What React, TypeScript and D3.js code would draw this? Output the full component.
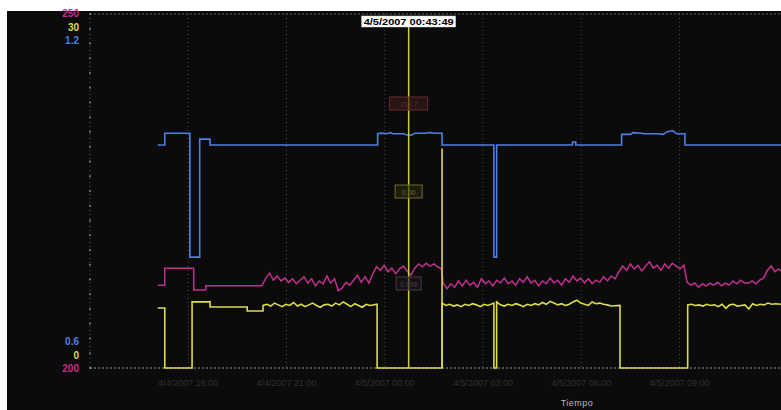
import React from "react";
import * as d3 from "d3";

// Acquisition start; samples are stored as minutes after this instant.
const START = new Date(2007, 3, 4, 15, 0, 0);
const SPAN_MIN = 1266;
const CURSOR = new Date(2007, 3, 5, 0, 43, 49);
const CURSOR_LABEL = "4/5/2007 00:43:49";
const X_TITLE = "Tiempo";

// Axis extents per channel (top / bottom labels)
const blueDomain: [number, number] = [0.6, 1.2];
const yellowDomain: [number, number] = [0, 30];
const magentaDomain: [number, number] = [200, 250];
const topLabels = ["250", "30", "1.2"];
const bottomLabels = ["0.6", "0", "200"];

// Channel 1 (blue): [minute, value]
const blueSeries: [number, number][] = [
  [124, 0.978], [137, 0.978], [137, 0.998], [183, 0.998], [183, 0.788],
  [201, 0.788], [201, 0.988], [220, 0.988], [220, 0.978], [527, 0.978],
  [527, 0.997], [535, 0.998], [545, 0.997], [550, 0.999], [555, 0.997],
  [575, 0.997], [580, 0.995], [590, 0.995], [595, 0.998], [615, 0.998],
  [620, 0.999], [635, 0.998], [645, 0.998], [645, 0.978], [740, 0.978],
  [740, 0.788], [745, 0.788], [745, 0.978], [884, 0.978], [884, 0.983],
  [890, 0.983], [890, 0.978], [974, 0.978], [974, 0.996], [990, 0.996],
  [995, 0.999], [1010, 0.998], [1015, 0.997], [1040, 0.997], [1050, 0.996],
  [1058, 1.001], [1068, 1.002], [1075, 0.997], [1090, 0.997],
  [1090, 0.978], [1266, 0.978],
];

// Channel 2 (yellow): [minute, value]
const yellowSeries: [number, number][] = [
  [124, 5.08], [137, 5.08], [137, 0], [187, 0], [187, 5.6], [220, 5.6],
  [220, 5.17], [288, 5.17], [288, 4.83], [317, 4.83], [317, 5.3], [324, 5.4],
  [331, 5.25], [338, 5.5], [345, 5.35], [352, 5.2], [359, 5.4], [366, 5.3],
  [373, 5.55], [380, 5.25], [387, 5.4], [394, 5.2], [401, 5.35], [408, 5.5],
  [415, 5.3], [422, 5.15], [429, 5.35], [436, 5.4], [443, 5.25], [450, 5.5],
  [457, 5.35], [464, 5.6], [471, 5.4], [478, 5.2], [485, 5.45], [492, 5.3],
  [499, 5.15], [506, 5.4], [513, 5.3], [526, 5.4], [526, 0], [645, 0],
  [645, 5.5], [652, 5.3], [659, 5.4], [666, 5.25], [673, 5.35], [680, 5.2],
  [687, 5.4], [694, 5.3], [701, 5.45], [708, 5.35], [715, 5.2], [722, 5.4],
  [729, 5.3], [740, 5.5], [740, 0], [745, 0], [745, 5.6], [752, 5.35],
  [759, 5.25], [766, 5.4], [773, 5.3], [780, 5.45], [787, 5.35], [794, 5.2],
  [801, 5.4], [808, 5.3], [815, 5.45], [822, 5.35], [829, 5.55], [836, 5.4],
  [843, 5.65], [850, 5.5], [857, 5.35], [864, 5.45], [871, 5.3], [878, 5.4],
  [885, 5.6], [892, 5.75], [899, 5.5], [906, 5.4], [913, 5.3], [920, 5.6],
  [927, 5.45], [934, 5.5], [941, 5.4], [948, 5.35], [955, 5.25], [971, 5.3],
  [971, 0], [1095, 0], [1095, 5.35], [1102, 5.4], [1109, 5.3], [1116, 5.35],
  [1123, 5.25], [1130, 5.4], [1137, 5.3], [1144, 5.35], [1151, 5.2],
  [1158, 5.4], [1165, 5.05], [1172, 5.35], [1179, 5.4], [1186, 5.25],
  [1193, 5.3], [1200, 5.35], [1207, 5.0], [1214, 5.45], [1221, 5.3],
  [1228, 5.4], [1235, 5.35], [1242, 5.5], [1249, 5.4], [1256, 5.45],
  [1266, 5.4],
];

// Channel 3 (magenta): [minute, value]
const magentaSeries: [number, number][] = [
  [124, 211.7], [137, 211.7], [137, 214.1], [190, 214.1], [190, 211.0],
  [212, 211.0], [212, 211.6], [315, 211.6], [322, 212.7], [329, 213.4],
  [336, 212.4], [343, 213.0], [350, 212.3], [357, 212.7], [364, 212.1],
  [371, 212.6], [378, 211.9], [385, 212.4], [392, 212.9], [399, 212.0],
  [406, 212.6], [413, 211.6], [420, 212.3], [427, 211.9], [434, 213.0],
  [441, 212.0], [448, 212.6], [455, 210.9], [462, 211.3], [469, 212.1],
  [476, 211.7], [483, 212.4], [490, 213.1], [497, 212.1], [504, 212.9],
  [511, 212.0], [518, 213.3], [525, 214.3], [532, 213.8], [539, 214.5],
  [546, 213.6], [553, 214.1], [560, 213.3], [567, 214.0], [574, 214.4],
  [581, 213.7], [588, 213.1], [595, 214.1], [602, 214.7], [609, 214.3],
  [616, 214.8], [623, 214.4], [630, 214.7], [637, 214.3], [644, 214.0],
  [647, 212.0], [654, 211.2], [661, 211.9], [668, 211.4], [675, 212.3],
  [682, 211.6], [689, 212.4], [696, 211.7], [703, 212.1], [710, 211.4],
  [717, 212.6], [724, 211.9], [731, 212.3], [738, 211.6], [745, 212.4],
  [752, 212.0], [759, 212.7], [766, 211.9], [773, 212.3], [780, 211.7],
  [787, 212.6], [794, 212.1], [801, 212.9], [808, 212.0], [815, 212.4],
  [822, 211.6], [829, 212.3], [836, 211.9], [843, 212.7], [850, 212.0],
  [857, 212.4], [864, 211.7], [871, 212.6], [878, 212.1], [885, 213.0],
  [892, 212.3], [899, 212.7], [906, 212.0], [913, 212.6], [920, 211.9],
  [927, 212.4], [934, 212.1], [941, 212.9], [948, 212.3], [955, 213.0],
  [962, 212.6], [969, 213.6], [976, 214.4], [983, 213.8], [990, 214.7],
  [997, 214.0], [1004, 214.5], [1011, 213.7], [1018, 214.4], [1025, 215.0],
  [1032, 214.1], [1039, 214.5], [1046, 213.8], [1053, 214.7], [1060, 214.1],
  [1067, 214.8], [1074, 214.4], [1081, 214.0], [1088, 214.5], [1094, 212.1],
  [1101, 211.7], [1108, 212.0], [1115, 211.4], [1122, 211.9], [1129, 211.6],
  [1136, 212.0], [1143, 211.7], [1150, 212.1], [1157, 211.6], [1164, 212.0],
  [1171, 211.7], [1178, 212.3], [1185, 211.9], [1192, 212.4], [1199, 212.0],
  [1206, 212.0], [1213, 212.3], [1220, 211.9], [1227, 212.4], [1234, 212.7],
  [1241, 213.8], [1248, 214.4], [1255, 213.6], [1262, 214.0], [1266, 213.7],
];

// Secondary marker on the yellow channel: [minute, from, to]
const markerLine: [number, number, number] = [645, 0, 18.6];

// Cursor readouts (channel, value)
const readouts: { key: string; value: string }[] = [
  { key: "magenta", value: "213.7" },
  { key: "yellow", value: "0.00" },
  { key: "blue", value: "0.998" },
];

const W = 781;
const H = 410;
const M = { left: 90, right: 781, top: 14, bottom: 368 };

const COLORS = {
  panel: "#0b0b0b",
  blue: "#4f7fe0",
  yellow: "#dcdc4c",
  magenta: "#c0308f",
  cursor: "#cfcf45",
  grid: "#4a4a4a",
  axis: "#8a8a8a",
};

const toDate = (m: number) => new Date(START.getTime() + m * 60000);

export default function App() {
  const x = d3
    .scaleTime()
    .domain([START, toDate(SPAN_MIN)])
    .range([M.left, M.right]);
  const yBlue = d3.scaleLinear().domain(blueDomain).range([M.bottom, M.top]);
  const yYellow = d3.scaleLinear().domain(yellowDomain).range([M.bottom, M.top]);
  const yMagenta = d3.scaleLinear().domain(magentaDomain).range([M.bottom, M.top]);

  const mkLine = (ys: d3.ScaleLinear<number, number>) =>
    d3
      .line<[number, number]>()
      .x((d) => x(toDate(d[0])))
      .y((d) => ys(d[1]))
      .curve(d3.curveLinear);

  const ticks = x.ticks(d3.timeHour.every(3)!).filter((t) => {
    const px = x(t);
    return px > M.left + 5 && px < M.right - 5;
  });
  const fmt = d3.timeFormat("%-m/%-d/%Y %H:%M");

  const cx = x(CURSOR);
  const leftTicks = d3.range(0, 25).map((i) => M.top + (i * (M.bottom - M.top)) / 24);

  const readoutBoxes = [
    { y: 97, w: 38, stroke: "#6b2a2a", fill: "#3a1a1a" },
    { y: 185, w: 27, stroke: "#6d6a2c", fill: "#2a2a12" },
    { y: 277, w: 25, stroke: "#4a3a48", fill: "#1e161e" },
  ];

  return (
    <svg
      width={W}
      height={H}
      style={{ position: "absolute", left: 0, top: 0, background: "#ffffff" }}
      fontFamily="'Liberation Sans', Arial, sans-serif"
    >
      <rect x={7} y={11} width={W - 7} height={H - 11} fill={COLORS.panel} />

      {/* vertical grid */}
      {ticks.map((t, i) => (
        <line
          key={"g" + i}
          x1={x(t)}
          x2={x(t)}
          y1={M.top}
          y2={M.bottom}
          stroke={COLORS.grid}
          strokeWidth={1}
          strokeDasharray="1 3"
        />
      ))}

      {/* frame lines */}
      <line x1={M.left} x2={M.right} y1={M.top} y2={M.top} stroke="#5a5a5a" strokeDasharray="2 2" />
      <line x1={M.left} x2={M.right} y1={M.bottom} y2={M.bottom} stroke="#9a9a9a" strokeDasharray="2 2" />
      <line x1={M.left} x2={M.left} y1={M.top} y2={M.bottom} stroke="#555" strokeDasharray="1 3" />
      {leftTicks.map((ty, i) => (
        <circle key={"lt" + i} cx={M.left} cy={ty} r={0.9} fill="#8a8a8a" />
      ))}

      {/* left axis labels */}
      {topLabels.map((t, i) => (
        <text
          key={"tl" + i}
          x={79}
          y={17 + i * 13.5}
          textAnchor="end"
          fontSize={10}
          fontWeight="bold"
          fill={[COLORS.magenta, COLORS.yellow, COLORS.blue][i]}
        >
          {t}
        </text>
      ))}
      {bottomLabels.map((t, i) => (
        <text
          key={"bl" + i}
          x={79}
          y={345 + i * 13.5}
          textAnchor="end"
          fontSize={10}
          fontWeight="bold"
          fill={[COLORS.blue, COLORS.yellow, COLORS.magenta][i]}
        >
          {t}
        </text>
      ))}

      {/* bottom time labels */}
      {ticks.map((t, i) => (
        <text
          key={"xl" + i}
          x={x(t)}
          y={386}
          textAnchor="middle"
          fontSize={9}
          fill="#2f2f2f"
        >
          {fmt(t)}
        </text>
      ))}
      <text x={577} y={406} textAnchor="middle" fontSize={9} fill="#b8b8b8" letterSpacing={0.5}>
        {X_TITLE}
      </text>

      {/* channels */}
      <path d={mkLine(yYellow)(yellowSeries) ?? ""} fill="none" stroke={COLORS.yellow} strokeWidth={1.6} />
      <path d={mkLine(yMagenta)(magentaSeries) ?? ""} fill="none" stroke={COLORS.magenta} strokeWidth={1.5} />
      <path d={mkLine(yBlue)(blueSeries) ?? ""} fill="none" stroke={COLORS.blue} strokeWidth={1.6} />

      {/* secondary marker */}
      <line
        x1={x(toDate(markerLine[0]))}
        x2={x(toDate(markerLine[0]))}
        y1={yYellow(markerLine[1])}
        y2={yYellow(markerLine[2])}
        stroke={COLORS.yellow}
        strokeWidth={1.6}
      />

      {/* cursor */}
      <line x1={cx} x2={cx} y1={27} y2={M.bottom} stroke={COLORS.cursor} strokeWidth={1.5} />
      {readoutBoxes.map((b, i) => (
        <g key={"rb" + i}>
          <rect
            x={cx - b.w / 2}
            y={b.y}
            width={b.w}
            height={13}
            fill={b.fill}
            fillOpacity={0.6}
            stroke={b.stroke}
            strokeWidth={1}
          />
          <text x={cx} y={b.y + 9.5} textAnchor="middle" fontSize={7} fill={b.stroke}>
            {readouts[i].value}
          </text>
        </g>
      ))}
      <rect x={cx - 47} y={16} width={94} height={11} fill="#ffffff" stroke="#cccccc" strokeWidth={0.5} />
      <text x={cx} y={25} textAnchor="middle" fontSize={9.5} fontWeight="bold" fill="#000000" textLength={90} lengthAdjust="spacingAndGlyphs">
        {CURSOR_LABEL}
      </text>
    </svg>
  );
}
